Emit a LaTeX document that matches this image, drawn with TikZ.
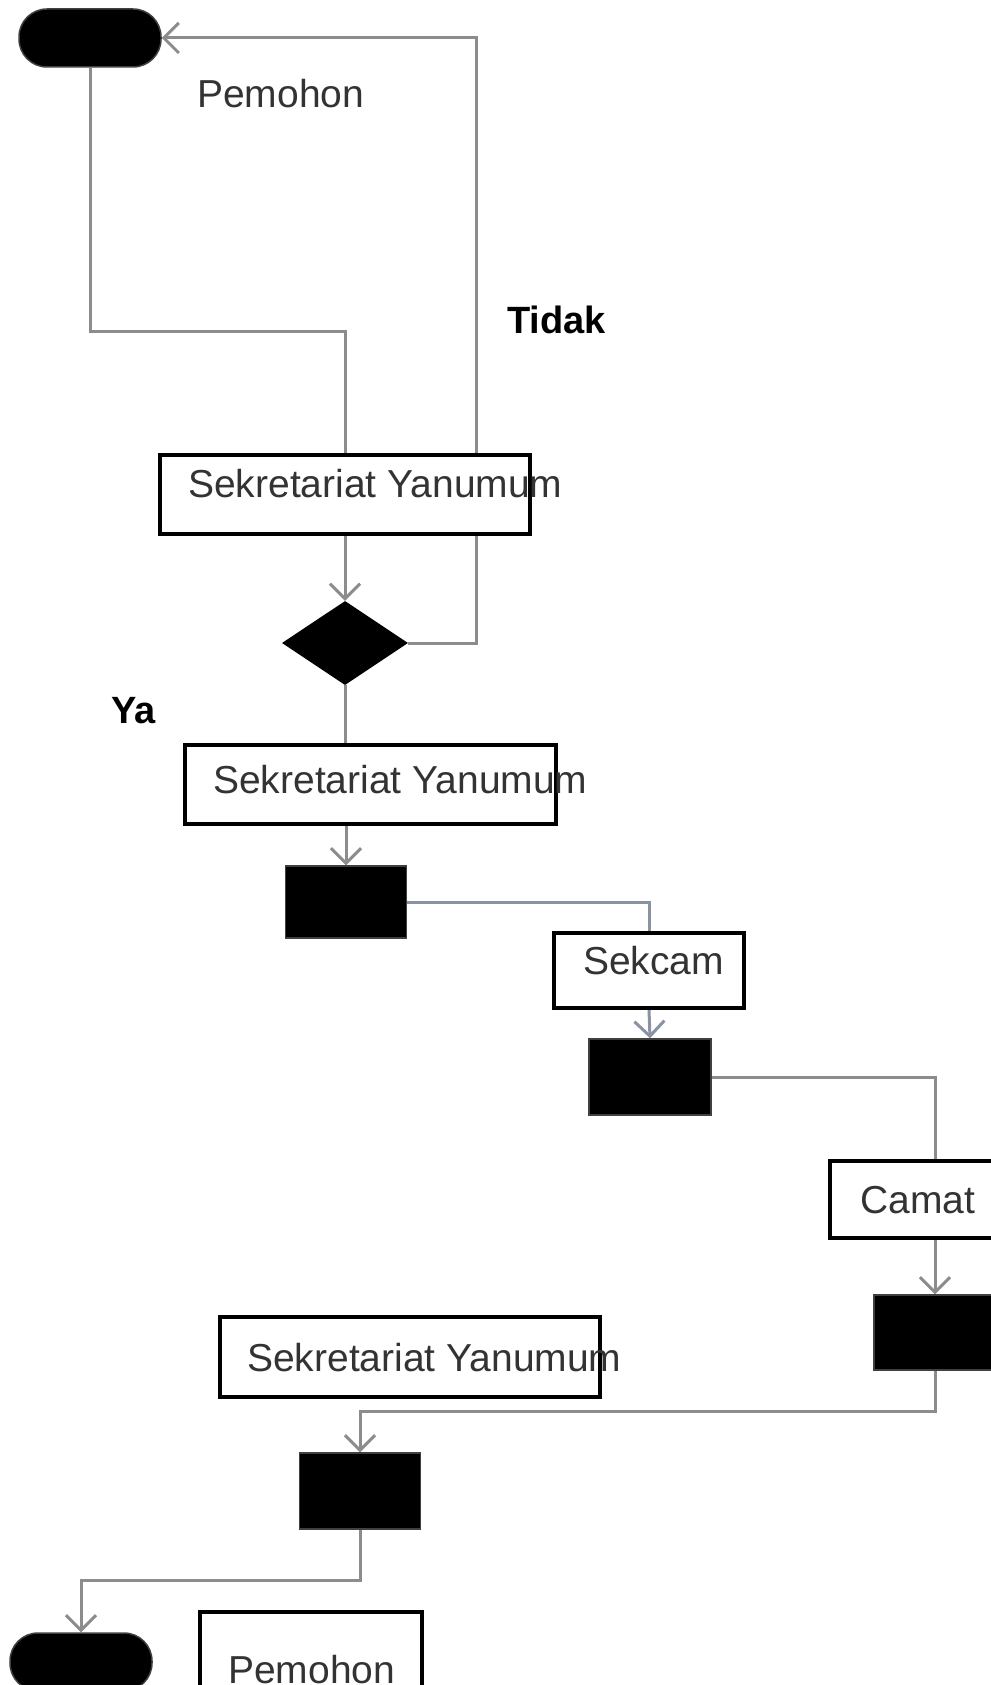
\documentclass[tikz,border=0pt]{standalone}
\usepackage{fontspec}
\setmainfont{Liberation Sans}
\usetikzlibrary{shapes.geometric,arrows.meta,backgrounds}
\definecolor{linegray}{HTML}{8C8C8C}
\definecolor{lineblue}{HTML}{8A93A3}
\definecolor{textgray}{HTML}{333333}
\begin{document}
\begin{tikzpicture}[x=1pt,y=-1pt,
  conn/.style={draw=linegray,line width=3pt},
  arr/.style={conn,-{Straight Barb[length=15pt,width=30pt,line width=3pt]}},
  boxnode/.style={draw=black,line width=3.5pt,fill=white,inner sep=0pt},
  blk/.style={draw=darkgray,line width=1.5pt,fill=black,inner sep=0pt},
  pill/.style={fill=black,draw=darkgray,line width=1.5pt,rounded corners=28pt,minimum width=142pt,minimum height=58pt,inner sep=0pt},
  dia/.style={diamond,fill=black,inner sep=0pt,minimum width=126pt,minimum height=84pt},
  txt/.style={inner sep=0pt,anchor=base west,text=textgray,font=\fontsize{39pt}{46pt}\selectfont},
  lbl/.style={inner sep=0pt,anchor=base west,text=black,font=\fontsize{38pt}{46pt}\selectfont\bfseries}]
\useasboundingbox (0,0) rectangle (990,1685);

\node[pill] (start) at (90,38) {};
\node[boxnode,minimum width=370pt,minimum height=79pt] (box1) at (345,494.5) {};
\node[dia] (dec) at (345,643) {};
\node[boxnode,minimum width=371pt,minimum height=79pt] (box2) at (370.5,784.5) {};
\node[blk,minimum width=121pt,minimum height=72pt] (r1) at (346,902) {};
\node[boxnode,minimum width=190pt,minimum height=75pt] (sekcam) at (649,970.5) {};
\node[blk,minimum width=122pt,minimum height=76pt] (r2) at (650,1077) {};
\node[boxnode,minimum width=210pt,minimum height=77pt] (camat) at (935,1199.5) {};
\node[blk,minimum width=122pt,minimum height=75pt] (r3) at (935,1332.5) {};
\node[boxnode,minimum width=380pt,minimum height=80pt] (box3) at (410,1357) {};
\node[blk,minimum width=121pt,minimum height=76pt] (r4) at (360,1491) {};
\node[pill] (end) at (81,1662) {};
\node[boxnode,minimum width=222pt,minimum height=80pt] (pbox) at (311,1652) {};

\node[txt] (t1) at (197,108) {Pemohon};
\node[lbl] (tidak) at (507,333) {Tidak};
\node[txt] (t2) at (188,497) {Sekretariat Yanumum};
\node[lbl] (ya) at (111,723) {Ya};
\node[txt] (t3) at (213,793) {Sekretariat Yanumum};
\node[txt] (t4) at (583,974) {Sekcam};
\node[txt] (t5) at (860,1213) {Camat};
\node[txt] (t6) at (247,1371) {Sekretariat Yanumum};
\node[txt] (t7) at (228,1683) {Pemohon};

\coordinate (k1) at (345,331);
\coordinate (k2) at (476,38);
\coordinate (k3) at (935,1411);
\coordinate (k4) at (360,1580);

\begin{pgfonlayer}{background}
\fill[white] (0,0) rectangle (990,1685);
\draw[conn] (start.south) |- (k1) -- (box1.north);
\draw[arr] (dec.east) -| (k2) -- (start.east);
\draw[arr] (box1.south) -- (dec.north);
\draw[conn] (dec.south) -- (dec.south |- box2.north);
\draw[arr] (r1.north |- box2.south) -- (r1.north);
\draw[conn,draw=lineblue] (r1.east) -| (sekcam.north);
\draw[arr,draw=lineblue] (sekcam.south) -- (r2.north);
\draw[conn] (r2.east) -| (camat.north);
\draw[arr] (camat.south) -- (r3.north);
\draw[arr] (r3.south) -- (k3) -| (r4.north);
\draw[arr] (r4.south) -- (k4) -| (end.north);
\end{pgfonlayer}
\end{tikzpicture}
\end{document}
